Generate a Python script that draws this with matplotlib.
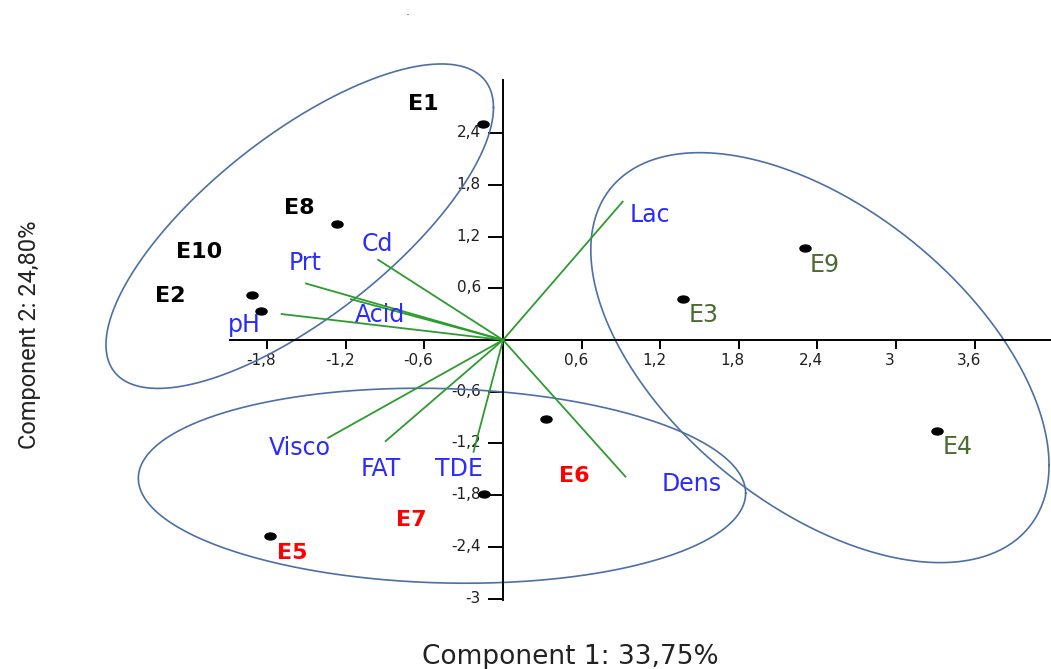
import numpy as np
import matplotlib
matplotlib.use("Agg")
import matplotlib.pyplot as plt
from matplotlib.path import Path
from matplotlib.transforms import Affine2D, ScaledTranslation

# ---- PCA scores of the samples ----
samples = ["E1", "E8", "E10", "E2", "E9", "E3", "E4", "E6", "E7", "E5"]
pc1 = [-0.150, -1.270, -1.918, -1.850, 2.305, 1.376, 3.315, 0.328, -0.143, -1.779]
pc2 = [2.502, 1.342, 0.522, 0.340, 1.064, 0.472, -1.052, -0.920, -1.787, -2.274]
# label anchor (centre x, baseline y) for each sample name
sample_lab_x = [-0.611, -1.555, -2.322, -2.540, 2.458, 1.532, 3.472, 0.546, -0.697, -1.612]
sample_lab_y = [2.668, 1.462, 0.948, 0.444, 0.792, 0.212, -1.326, -1.644, -2.158, -2.541]
sample_group = ["A", "A", "A", "A", "B", "B", "B", "C", "C", "C"]

# ---- variable loadings (biplot vectors) ----
variables = ["Lac", "Cd", "Prt", "Acid", "pH", "Visco", "FAT", "TDE", "Dens"]
load1 = [0.918, -0.959, -1.511, -1.168, -1.697, -1.341, -0.901, -0.227, 0.939]
load2 = [1.613, 0.936, 0.658, 0.476, 0.302, -1.140, -1.180, -1.307, -1.593]
var_lab_x = [1.124, -0.958, -1.510, -0.941, -1.972, -1.552, -0.930, -0.334, 1.440]
var_lab_y = [1.372, 1.036, 0.812, 0.212, 0.096, -1.334, -1.578, -1.578, -1.748]

# ---- group ellipses: centre, half extents and correlation ----
ell_cx = [-1.552, 2.419, -0.466]
ell_cy = [1.320, -0.205, -1.691]
ell_sx = [1.479, 1.749, 2.318]
ell_sy = [1.882, 2.378, 1.131]
ell_rho = [0.731, -0.525, -0.077]

xticks = [-1.8, -1.2, -0.6, 0.6, 1.2, 1.8, 2.4, 3.0, 3.6]
yticks = [-3.0, -2.4, -1.8, -1.2, -0.6, 0.6, 1.2, 1.8, 2.4]
xlabel = "Component 1: 33,75%"
ylabel = "Component 2: 24,80%"

group_style = {
    "A": dict(color="black", fontweight="bold", fontsize=16),
    "B": dict(color="#4b6b33", fontweight="normal", fontsize=17),
    "C": dict(color="#ff0000", fontweight="bold", fontsize=16),
}


def fmt(v):
    s = f"{v:g}"
    return s.replace(".", ",")


fig = plt.figure(figsize=(10.51, 6.69), dpi=100)
ax = fig.add_axes([0, 0, 1, 1])
ax.set_xlim(-3.840, 4.183)
ax.set_ylim(-3.817, 3.944)
ax.patch.set_alpha(0)

for side in ("top", "right"):
    ax.spines[side].set_visible(False)
ax.spines["left"].set_position(("data", 0))
ax.spines["bottom"].set_position(("data", 0))
ax.spines["left"].set_bounds(-3.016, 3.016)
ax.spines["bottom"].set_bounds(-2.084, 4.183)
for side in ("left", "bottom"):
    ax.spines[side].set_linewidth(1.4)
    ax.spines[side].set_color("black")

ax.set_xticks(xticks)
ax.set_xticklabels([fmt(v) for v in xticks])
ax.set_yticks(yticks)
ax.set_yticklabels([fmt(v) for v in yticks])
ax.tick_params(axis="x", direction="out", length=6.5, width=1.4, pad=3,
               labelsize=11, labelcolor="#1e1e1e", colors="black")
ax.tick_params(axis="y", direction="out", length=11, width=1.4, pad=5,
               labelsize=11, labelcolor="#1e1e1e", colors="black")
for lab in ax.get_xticklabels():
    lab.set_transform(lab.get_transform() + ScaledTranslation(-0.06, 0, fig.dpi_scale_trans))
for lab in ax.get_yticklabels():
    lab.set_transform(lab.get_transform() + ScaledTranslation(0, 0.02, fig.dpi_scale_trans))

# group ellipses
t = np.linspace(0, 2 * np.pi, 600)
for cx, cy, sx, sy, r in zip(ell_cx, ell_cy, ell_sx, ell_sy, ell_rho):
    ex = cx + sx * np.cos(t)
    ey = cy + sy * (r * np.cos(t) + np.sqrt(1 - r ** 2) * np.sin(t))
    ax.plot(ex, ey, color="#4d6fa6", lw=1.2, zorder=2)

# loading vectors
for vx, vy in zip(load1, load2):
    ax.plot([0, vx], [0, vy], color="#2e9b2e", lw=1.3, zorder=3,
            solid_capstyle="butt")
for name, lx, ly in zip(variables, var_lab_x, var_lab_y):
    ax.text(lx, ly, name, color="#2b2bff", fontsize=17, ha="center",
            va="baseline", family="DejaVu Sans", zorder=5)

# sample scores
dot = Path.unit_circle().transformed(Affine2D().scale(1.6, 1.0))
ax.plot(pc1, pc2, linestyle="none", marker=dot, markersize=8,
        color="black", zorder=4)
for name, lx, ly, g in zip(samples, sample_lab_x, sample_lab_y, sample_group):
    ax.text(lx, ly, name, ha="center", va="baseline", family="DejaVu Sans",
            zorder=5, **group_style[g])

fig.text(570 / 1051, 1 - 657 / 669, xlabel, ha="center", va="center",
         fontsize=19, family="DejaVu Sans", color="#222222")
fig.text(30 / 1051, 1 - 335 / 669, ylabel, ha="center", va="center",
         rotation=90, fontsize=17,
         family=["Liberation Sans Narrow", "Roboto"], color="#222222")
fig.text(408 / 1051, 1 - 15 / 669, ".", ha="center", va="baseline",
         fontsize=9, color="#2b2bff")

fig.savefig("out.png", dpi=100, facecolor="white")
